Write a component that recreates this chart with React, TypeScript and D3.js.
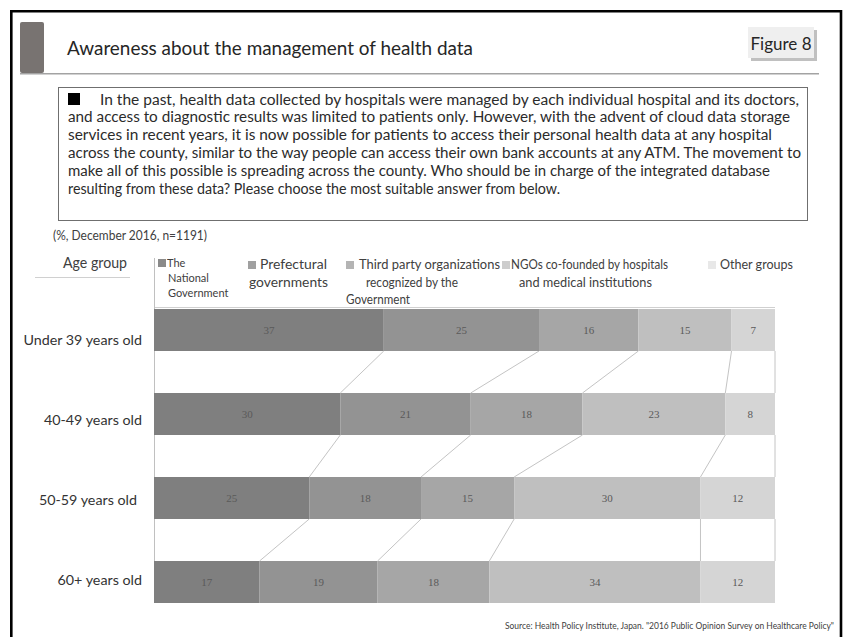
import React from "react";
import * as d3 from "d3";

const W = 843;
const H = 637;

const titleText = "Awareness about the management of health data";
const figureLabel = "Figure 8";
const questionLines = [
  "In the past, health data collected by hospitals were managed by each individual hospital and its doctors,",
  "and access to diagnostic results was limited to patients only. However, with the advent of cloud data storage",
  "services in recent years, it is now possible for patients to access their personal health data at any hospital",
  "across the county, similar to the way people can access their own bank accounts at any ATM. The movement to",
  "make all of this possible is spreading across the county. Who should be in charge of the integrated database",
  "resulting from these data? Please choose the most suitable answer from below.",
];
const questionLineEnds = [799, 790, 772, 801, 770, 560];
const noteText = "(%, December 2016, n=1191)";
const axisTitle = "Age group";
const sourceText =
  'Source: Health Policy Institute, Japan. "2016 Public Opinion Survey on Healthcare Policy"';

const categories = ["Under 39 years old", "40-49 years old", "50-59 years old", "60+ years old"];
const seriesNames = [
  "The National Government",
  "Prefectural governments",
  "Third party organizations recognized by the Government",
  "NGOs co-founded by hospitals and medical institutions",
  "Other groups",
];
const nationalGov = [37, 30, 25, 17];
const prefectural = [25, 21, 18, 19];
const thirdParty = [16, 18, 15, 18];
const ngos = [15, 23, 30, 34];
const otherGroups = [7, 8, 12, 12];
const seriesValues = [nationalGov, prefectural, thirdParty, ngos, otherGroups];

const barColors = ["#7f7f7f", "#939393", "#a6a6a6", "#bfbfbf", "#d5d5d5"];
const legendColors = ["#8a8a8a", "#a0a0a0", "#b4b4b4", "#cdcdcd", "#e8e8e8"];

const SANS = "Lato, 'Open Sans', sans-serif";

export default function App() {
  const x = d3.scaleLinear().domain([0, 100]).range([154, 775]);
  const y = d3
    .scaleBand<string>()
    .domain(categories)
    .range([288, 624])
    .paddingInner(0.5)
    .paddingOuter(0.25);
  const yLabel = d3.scalePoint<string>().domain(categories).range([339, 579]);

  const rows = categories.map((c, i) => {
    const vals = seriesValues.map((s) => s[i]);
    const cum = d3.cumsum(vals);
    return { c, segs: vals.map((v, k) => ({ v, k, x0: cum[k] - v, x1: cum[k] })), cum };
  });

  const bw = y.bandwidth();

  const connectors: { x1: number; y1: number; x2: number; y2: number }[] = [];
  for (let r = 0; r < rows.length - 1; r++) {
    for (let k = 0; k < 5; k++) {
      connectors.push({
        x1: x(rows[r].cum[k]),
        y1: (y(rows[r].c) as number) + bw,
        x2: x(rows[r + 1].cum[k]),
        y2: y(rows[r + 1].c) as number,
      });
    }
  }

  // legend text layout: [text, x, width (0 = natural)]
  const legendItems = [
    { sx: 158, fs: 11, lh: 15, base: 267, lines: [["The", 167, 0], ["National", 168, 0], ["Government", 168, 0]] },
    { sx: 248, fs: 13, lh: 17.5, base: 269, lines: [["Prefectural", 260, 67], ["governments", 249, 79]] },
    { sx: 346, fs: 13, lh: 17.5, base: 269, lines: [["Third party organizations", 359, 141], ["recognized by the", 366, 92], ["Government", 346, 64]] },
    { sx: 502, fs: 13, lh: 17.5, base: 269, lines: [["NGOs co-founded by hospitals", 511, 157], ["and medical institutions", 519, 133]] },
    { sx: 708, fs: 13, lh: 17.5, base: 269, lines: [["Other groups", 720, 73]] },
  ] as { sx: number; fs: number; lh: number; base: number; lines: [string, number, number][] }[];

  return (
    <div style={{ position: "absolute", left: 0, top: 0, width: W, height: H, background: "#fff" }}>
      <svg width={W} height={H} viewBox={`0 0 ${W} ${H}`} style={{ display: "block" }} fontFamily={SANS}>
        <rect x={0} y={0} width={W} height={H} fill="#fff" />
        {/* frame */}
        <path d={`M11.3,${H + 2} V11.3 H841 V${H + 2}`} fill="none" stroke="#000" strokeWidth={2.6} />

        {/* title area */}
        <rect x={20} y={22} width={24} height={51} rx={2} fill="#787371" />
        <line x1={20} x2={819} y1={73.8} y2={73.8} stroke="#a3a3a3" strokeWidth={1.6} />
        <text x={67} y={55} fontSize={18.5} fill="#262626" textLength={406} lengthAdjust="spacingAndGlyphs">
          {titleText}
        </text>

        {/* figure label box */}
        <rect x={751} y={30} width={66} height={31} fill="#8c8c8c" opacity={0.55} />
        <rect x={748} y={27} width={66} height={31} fill="#efefef" />
        <text x={781} y={50} fontSize={17} fill="#262626" textAnchor="middle">
          {figureLabel}
        </text>

        {/* question box */}
        <rect x={58.5} y={87.5} width={749} height={133} fill="#fff" stroke="#6f6f6f" strokeWidth={1} />
        <rect x={68} y={93} width={12} height={12} fill="#000" />
        {questionLines.map((t, i) => {
          const sx = i === 0 ? 100 : 68;
          return (
            <text
              key={i}
              x={sx}
              y={104.5 + i * 17.8}
              fontSize={14.5}
              fill="#2b2b2b"
              textLength={questionLineEnds[i] - sx}
              lengthAdjust="spacingAndGlyphs"
            >
              {t}
            </text>
          );
        })}

        <text x={53} y={240} fontSize={13} fill="#404040" textLength={154} lengthAdjust="spacingAndGlyphs">
          {noteText}
        </text>

        {/* axis title */}
        <text x={63} y={268} fontSize={15.5} fill="#404040" textLength={64} lengthAdjust="spacingAndGlyphs">
          {axisTitle}
        </text>
        <line x1={35} x2={130} y1={277.5} y2={277.5} stroke="#d0d0d0" strokeWidth={1} />

        {/* legend */}
        {legendItems.map((it, i) => (
          <g key={i}>
            <rect x={it.sx} y={it.base - 8} width={8} height={8} fill={legendColors[i]} />
            {it.lines.map(([t, lx, lw], j) => (
              <text
                key={j}
                x={lx}
                y={it.base + j * it.lh}
                fontSize={it.fs}
                fill="#404040"
                textLength={lw || undefined}
                lengthAdjust={lw ? "spacingAndGlyphs" : undefined}
              >
                {t}
              </text>
            ))}
          </g>
        ))}
        <line x1={155} x2={775} y1={307.5} y2={307.5} stroke="#d0d0d0" strokeWidth={1} />

        {/* axis line */}
        <line x1={154.5} x2={154.5} y1={258} y2={603} stroke="#c0c0c0" strokeWidth={1} />

        {/* connectors */}
        {connectors.map((c, i) => (
          <line key={i} x1={c.x1} y1={c.y1} x2={c.x2} y2={c.y2} stroke="#c4c4c4" strokeWidth={1} />
        ))}

        {/* bars */}
        {rows.map((r) => (
          <g key={r.c}>
            {r.segs.map((s) => (
              <g key={s.k}>
                <rect
                  x={x(s.x0)}
                  y={y(r.c)}
                  width={x(s.x1) - x(s.x0)}
                  height={bw}
                  fill={barColors[s.k]}
                />
                <text
                  x={(x(s.x0) + x(s.x1)) / 2}
                  y={(y(r.c) as number) + bw / 2 + 4}
                  fontSize={11}
                  fontFamily="'Liberation Serif', serif"
                  textAnchor="middle"
                  fill="#5a5a5a"
                >
                  {s.v}
                </text>
              </g>
            ))}
          </g>
        ))}

        {/* category labels */}
        {categories.map((c, i) => (
          <text
            key={c}
            x={i === 2 ? 137 : 142}
            y={(yLabel(c) as number) + 5.5}
            fontSize={14.3}
            textAnchor="end"
            fill="#333"
          >
            {c}
          </text>
        ))}

        {/* source */}
        <text x={505} y={629} fontSize={8.5} fill="#404040" textLength={329} lengthAdjust="spacingAndGlyphs">
          {sourceText}
        </text>
      </svg>
    </div>
  );
}
